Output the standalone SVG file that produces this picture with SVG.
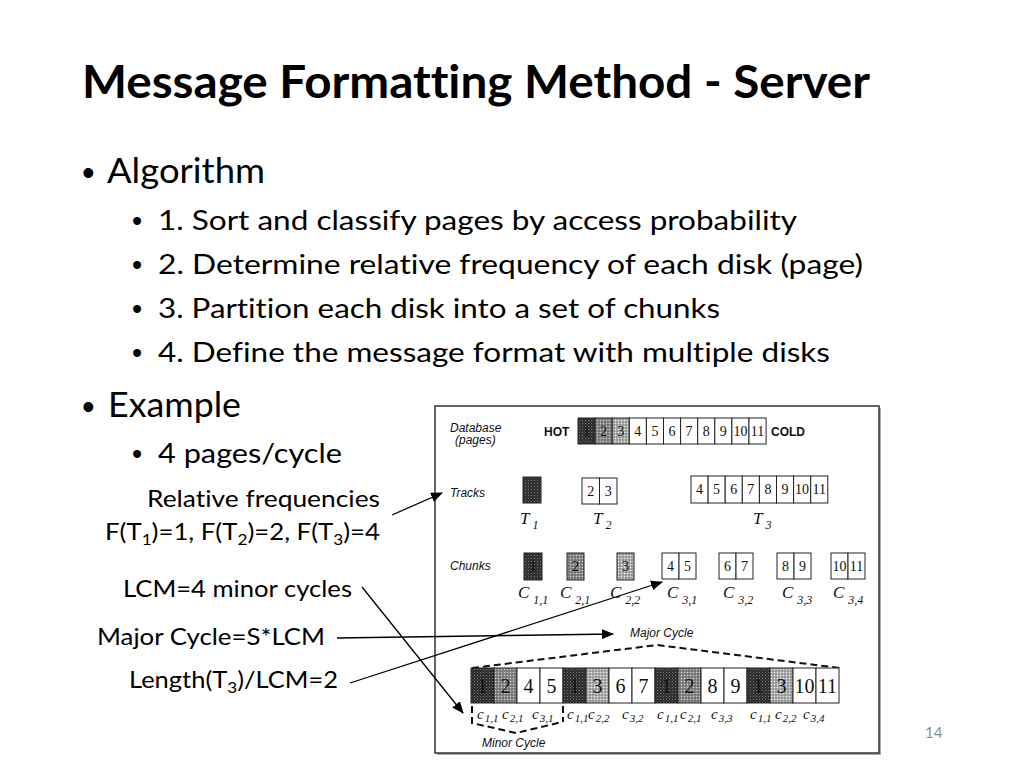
<svg xmlns="http://www.w3.org/2000/svg" width="1024" height="768" viewBox="0 0 1024 768">
<style>
.t{font-family:Lato,"Open Sans","Liberation Sans",sans-serif;fill:#000;font-variant-ligatures:none}
.ttl{font-size:46px;font-weight:bold}
.l1{font-size:35px}
.l2{font-size:26px}
.lb{font-size:24px}
.b1{font-family:"Liberation Sans",Arial,sans-serif;font-size:36px}
.b2{font-family:"Liberation Sans",Arial,sans-serif;font-size:29px}
.fa{font-family:"Liberation Sans",Arial,sans-serif;font-style:italic;font-size:12px;fill:#111}
.fb{font-family:"Liberation Sans",Arial,sans-serif;font-weight:bold;font-size:12px;fill:#111}
.n{font-family:"Liberation Serif","Times New Roman",serif;font-size:14px;fill:#111;text-anchor:middle}
.nb{font-family:"Liberation Serif","Times New Roman",serif;font-size:20px;fill:#111;text-anchor:middle}
.ci{font-family:"Liberation Serif","Times New Roman",serif;font-style:italic;fill:#111}
.c{stroke:#222;stroke-width:1;fill:#fff}
.cd{stroke:#222;stroke-width:1;fill:url(#dk)}
.cm{stroke:#222;stroke-width:1;fill:url(#md)}
.cl{stroke:#222;stroke-width:1;fill:url(#lt)}
.dash{fill:none;stroke:#111;stroke-width:2;stroke-dasharray:7 4}
.ar{stroke:#000;stroke-width:1.3;fill:none;marker-end:url(#ah)}
</style>
<defs>
<pattern id="dk" width="3" height="3" patternUnits="userSpaceOnUse"><rect width="3" height="3" fill="#2b2b2b"/><rect width="1" height="1" fill="#7a7a7a"/><rect x="1.5" y="1.5" width="1" height="1" fill="#555"/></pattern>
<pattern id="md" width="3" height="3" patternUnits="userSpaceOnUse"><rect width="3" height="3" fill="#8a8a8a"/><rect width="1" height="1" fill="#d0d0d0"/><rect x="1.5" y="1.5" width="1" height="1" fill="#444"/></pattern>
<pattern id="lt" width="3" height="3" patternUnits="userSpaceOnUse"><rect width="3" height="3" fill="#b0b0b0"/><rect width="1" height="1" fill="#eee"/><rect x="1.5" y="1.5" width="1" height="1" fill="#555"/></pattern>
<marker id="ah" markerWidth="12" markerHeight="10" refX="11" refY="5" orient="auto" markerUnits="userSpaceOnUse"><path d="M0,0 L12,5 L0,10 Z" fill="#000"/></marker>
</defs>
<rect width="1024" height="768" fill="#fff"/>

<g id="title"><text class="t ttl" x="82" y="98" textLength="788" lengthAdjust="spacingAndGlyphs">Message Formatting Method - Server</text></g>

<g id="bullets">
<text class="b1" x="82" y="185">•</text>
<text class="t l1" x="107" y="183" textLength="158" lengthAdjust="spacingAndGlyphs">Algorithm</text>
<text class="b2" x="132" y="231">•</text>
<text class="t l2" x="158" y="230" textLength="639" lengthAdjust="spacingAndGlyphs">1. Sort and classify pages by access probability</text>
<text class="b2" x="132" y="275">•</text>
<text class="t l2" x="158" y="274" textLength="705" lengthAdjust="spacingAndGlyphs">2. Determine relative frequency of each disk (page)</text>
<text class="b2" x="132" y="319">•</text>
<text class="t l2" x="158" y="318" textLength="562" lengthAdjust="spacingAndGlyphs">3. Partition each disk into a set of chunks</text>
<text class="b2" x="132" y="363">•</text>
<text class="t l2" x="158" y="362" textLength="672" lengthAdjust="spacingAndGlyphs">4. Define the message format with multiple disks</text>
<text class="b1" x="82" y="419">•</text>
<text class="t l1" x="108" y="417" textLength="133" lengthAdjust="spacingAndGlyphs">Example</text>
<text class="b2" x="132" y="464">•</text>
<text class="t l2" x="158" y="463" textLength="184" lengthAdjust="spacingAndGlyphs">4 pages/cycle</text>
</g>

<g id="labels">
<text class="t lb" x="147" y="507" textLength="233" lengthAdjust="spacingAndGlyphs">Relative frequencies</text>
<text class="t lb" x="105" y="540" textLength="275" lengthAdjust="spacingAndGlyphs">F(T<tspan font-size="16" dy="5">1</tspan><tspan dy="-5">)=1, F(T</tspan><tspan font-size="16" dy="5">2</tspan><tspan dy="-5">)=2, F(T</tspan><tspan font-size="16" dy="5">3</tspan><tspan dy="-5">)=4</tspan></text>
<text class="t lb" x="123" y="597" textLength="229" lengthAdjust="spacingAndGlyphs">LCM=4 minor cycles</text>
<text class="t lb" x="97" y="645" textLength="228" lengthAdjust="spacingAndGlyphs">Major Cycle=S*LCM</text>
<text class="t lb" x="129" y="688" textLength="209" lengthAdjust="spacingAndGlyphs">Length(T<tspan font-size="16" dy="5">3</tspan><tspan dy="-5">)/LCM=2</tspan></text>
</g>

<g id="figure">
<rect x="437" y="408" width="444" height="347" fill="#aaa"/>
<rect x="435" y="406" width="444" height="347" fill="#fff" stroke="#333" stroke-width="1.5"/>

<g id="database">
<text class="fa" x="450" y="432">Database</text>
<text class="fa" x="455" y="444">(pages)</text>
<text class="fb" x="544" y="436">HOT</text>
<rect class="cd" x="578" y="418" width="17.1" height="26"/>
<rect class="cm" x="595.1" y="418" width="17.1" height="26"/>
<rect class="cl" x="612.2" y="418" width="17.1" height="26"/>
<rect class="c" x="629.3" y="418" width="17.1" height="26"/>
<rect class="c" x="646.4" y="418" width="17.1" height="26"/>
<rect class="c" x="663.5" y="418" width="17.1" height="26"/>
<rect class="c" x="680.6" y="418" width="17.1" height="26"/>
<rect class="c" x="697.7" y="418" width="17.1" height="26"/>
<rect class="c" x="714.8" y="418" width="17.1" height="26"/>
<rect class="c" x="731.9" y="418" width="17.1" height="26"/>
<rect class="c" x="749" y="418" width="17.1" height="26"/>
<text class="n" x="586.5" y="436">1</text><text class="n" x="603.6" y="436">2</text><text class="n" x="620.7" y="436">3</text>
<text class="n" x="637.8" y="436">4</text><text class="n" x="654.9" y="436">5</text><text class="n" x="672" y="436">6</text>
<text class="n" x="689.1" y="436">7</text><text class="n" x="706.2" y="436">8</text><text class="n" x="723.3" y="436">9</text>
<text class="n" x="740.4" y="436">10</text><text class="n" x="757.5" y="436">11</text>
<text class="fb" x="771" y="436">COLD</text>
</g>

<g id="tracks">
<text class="fa" x="450" y="497">Tracks</text>
<rect class="cd" x="523" y="477" width="18" height="26"/>
<rect class="c" x="582" y="478" width="17.5" height="26"/>
<rect class="c" x="599.5" y="478" width="17.5" height="26"/>
<text class="n" x="590.7" y="496">2</text><text class="n" x="608.2" y="496">3</text>
<rect class="c" x="691" y="476" width="17.1" height="27"/>
<rect class="c" x="708.1" y="476" width="17.1" height="27"/>
<rect class="c" x="725.2" y="476" width="17.1" height="27"/>
<rect class="c" x="742.3" y="476" width="17.1" height="27"/>
<rect class="c" x="759.4" y="476" width="17.1" height="27"/>
<rect class="c" x="776.5" y="476" width="17.1" height="27"/>
<rect class="c" x="793.6" y="476" width="17.1" height="27"/>
<rect class="c" x="810.7" y="476" width="17.1" height="27"/>
<text class="n" x="699.5" y="494">4</text><text class="n" x="716.6" y="494">5</text><text class="n" x="733.7" y="494">6</text>
<text class="n" x="750.8" y="494">7</text><text class="n" x="767.9" y="494">8</text><text class="n" x="785" y="494">9</text>
<text class="n" x="802.1" y="494">10</text><text class="n" x="819.2" y="494">11</text>
<text class="ci" x="520" y="524" font-size="17">T<tspan font-size="12" dx="3" dy="5">1</tspan></text>
<text class="ci" x="593" y="524" font-size="17">T<tspan font-size="12" dx="3" dy="5">2</tspan></text>
<text class="ci" x="753" y="524" font-size="17">T<tspan font-size="12" dx="3" dy="5">3</tspan></text>
</g>

<g id="chunks">
<text class="fa" x="450" y="570">Chunks</text>
<rect class="cd" x="524" y="553" width="18" height="27"/>
<text class="n" x="533" y="571">1</text>
<rect class="cm" x="567" y="553" width="17" height="27"/>
<text class="n" x="575.5" y="571">2</text>
<rect class="cl" x="617" y="553" width="17" height="27"/>
<text class="n" x="625.5" y="571">3</text>
<rect class="c" x="662" y="553" width="17" height="26"/><rect class="c" x="679" y="553" width="17" height="26"/>
<text class="n" x="670.5" y="571">4</text><text class="n" x="687.5" y="571">5</text>
<rect class="c" x="719" y="553" width="17" height="26"/><rect class="c" x="736" y="553" width="17" height="26"/>
<text class="n" x="727.5" y="571">6</text><text class="n" x="744.5" y="571">7</text>
<rect class="c" x="777" y="553" width="17" height="26"/><rect class="c" x="794" y="553" width="17" height="26"/>
<text class="n" x="785.5" y="571">8</text><text class="n" x="802.5" y="571">9</text>
<rect class="c" x="831" y="553" width="17" height="26"/><rect class="c" x="848" y="553" width="17" height="26"/>
<text class="n" x="839.5" y="571">10</text><text class="n" x="856.5" y="571">11</text>
<text class="ci" x="518" y="598" font-size="17">C<tspan font-size="12" dx="4" dy="6">1,1</tspan></text>
<text class="ci" x="560" y="598" font-size="17">C<tspan font-size="12" dx="4" dy="6">2,1</tspan></text>
<text class="ci" x="610" y="598" font-size="17">C<tspan font-size="12" dx="4" dy="6">2,2</tspan></text>
<text class="ci" x="667" y="598" font-size="17">C<tspan font-size="12" dx="4" dy="6">3,1</tspan></text>
<text class="ci" x="723" y="598" font-size="17">C<tspan font-size="12" dx="4" dy="6">3,2</tspan></text>
<text class="ci" x="782" y="598" font-size="17">C<tspan font-size="12" dx="4" dy="6">3,3</tspan></text>
<text class="ci" x="833" y="598" font-size="17">C<tspan font-size="12" dx="4" dy="6">3,4</tspan></text>
</g>

<g id="major-cycle">
<text class="fa" x="630" y="637" font-size="11">Major Cycle</text>
<polyline class="dash" points="472,668 657,645 840,668"/>
<rect class="cd" x="471" y="668" width="23" height="35"/>
<rect class="cm" x="494" y="668" width="23" height="35"/>
<rect class="c" x="517" y="668" width="23" height="35"/>
<rect class="c" x="540" y="668" width="23" height="35"/>
<rect class="cd" x="563" y="668" width="23" height="35"/>
<rect class="cl" x="586" y="668" width="23" height="35"/>
<rect class="c" x="609" y="668" width="23" height="35"/>
<rect class="c" x="632" y="668" width="23" height="35"/>
<rect class="cd" x="655" y="668" width="23" height="35"/>
<rect class="cm" x="678" y="668" width="23" height="35"/>
<rect class="c" x="701" y="668" width="23" height="35"/>
<rect class="c" x="724" y="668" width="23" height="35"/>
<rect class="cd" x="747" y="668" width="23" height="35"/>
<rect class="cl" x="770" y="668" width="23" height="35"/>
<rect class="c" x="793" y="668" width="23" height="35"/>
<rect class="c" x="816" y="668" width="23" height="35"/>
<text class="nb" x="482.5" y="693">1</text><text class="nb" x="505.5" y="693">2</text><text class="nb" x="528.5" y="693">4</text><text class="nb" x="551.5" y="693">5</text>
<text class="nb" x="574.5" y="693">1</text><text class="nb" x="597.5" y="693">3</text><text class="nb" x="620.5" y="693">6</text><text class="nb" x="643.5" y="693">7</text>
<text class="nb" x="666.5" y="693">1</text><text class="nb" x="689.5" y="693">2</text><text class="nb" x="712.5" y="693">8</text><text class="nb" x="735.5" y="693">9</text>
<text class="nb" x="758.5" y="693">1</text><text class="nb" x="781.5" y="693">3</text><text class="nb" x="804.5" y="693">10</text><text class="nb" x="827.5" y="693">11</text>
<g font-size="15">
<text class="ci" x="477" y="719">c<tspan font-size="11" dx="1" dy="3">1,1</tspan></text>
<text class="ci" x="502" y="719">c<tspan font-size="11" dx="1" dy="3">2,1</tspan></text>
<text class="ci" x="532" y="719">c<tspan font-size="11" dx="1" dy="3">3,1</tspan></text>
<text class="ci" x="567" y="719">c<tspan font-size="11" dx="1" dy="3">1,1</tspan></text>
<text class="ci" x="588" y="719">c<tspan font-size="11" dx="1" dy="3">2,2</tspan></text>
<text class="ci" x="622" y="719">c<tspan font-size="11" dx="1" dy="3">3,2</tspan></text>
<text class="ci" x="657" y="719">c<tspan font-size="11" dx="1" dy="3">1,1</tspan></text>
<text class="ci" x="680" y="719">c<tspan font-size="11" dx="1" dy="3">2,1</tspan></text>
<text class="ci" x="711" y="719">c<tspan font-size="11" dx="1" dy="3">3,3</tspan></text>
<text class="ci" x="750" y="719">c<tspan font-size="11" dx="1" dy="3">1,1</tspan></text>
<text class="ci" x="775" y="719">c<tspan font-size="11" dx="1" dy="3">2,2</tspan></text>
<text class="ci" x="803" y="719">c<tspan font-size="11" dx="1" dy="3">3,4</tspan></text>
</g>
</g>

<g id="minor-cycle">
<path class="dash" d="M472,706 L472,723 L516,733 L562,722 M563,706 L563,722"/>
<text class="fa" x="482" y="747" font-size="11">Minor Cycle</text>
</g>
</g>

<g id="connectors">
<line class="ar" x1="392" y1="515" x2="442" y2="493"/>
<line class="ar" x1="362" y1="587" x2="463" y2="713"/>
<line class="ar" x1="337" y1="638" x2="613" y2="634"/>
<line class="ar" x1="350" y1="683" x2="662" y2="582"/>
</g>

<g id="page-number"><text x="925" y="738" font-family="Lato,'Liberation Sans',sans-serif" font-size="15" fill="#8c8c8c">14</text></g>
</svg>
